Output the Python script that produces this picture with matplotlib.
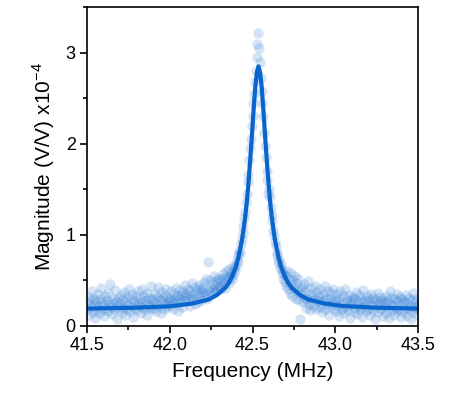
import numpy as np
import matplotlib.pyplot as plt
from matplotlib.ticker import MultipleLocator, FormatStrFormatter

plt.rcParams['font.family'] = ['Liberation Sans', 'DejaVu Sans']
plt.rcParams['mathtext.fontset'] = 'custom'
plt.rcParams['mathtext.rm'] = 'Liberation Sans'

# sweep: 41.5 -> 43.5 MHz, 401 points (0.005 MHz step)
sweep_start, sweep_stop, sweep_n = 41.5, 43.5, 401

mag = [
    0.25, 0.18, 0.32, 0.12, 0.28, 0.21, 0.38, 0.15, 0.24, 0.30, 0.09, 0.27, 0.19, 0.35, 0.22, 0.14, 0.29, 0.42, 0.17, 0.23,
    0.26, 0.11, 0.33, 0.20, 0.28, 0.36, 0.16, 0.24, 0.46, 0.21, 0.13, 0.30, 0.25, 0.18, 0.39, 0.27, 0.08, 0.22, 0.31, 0.19,
    0.24, 0.34, 0.15, 0.28, 0.21, 0.37, 0.12, 0.26, 0.32, 0.18, 0.23, 0.40, 0.16, 0.29, 0.22, 0.35, 0.10, 0.27, 0.20, 0.33,
    0.25, 0.17, 0.38, 0.23, 0.30, 0.14, 0.41, 0.26, 0.21, 0.33, 0.19, 0.28, 0.36, 0.12, 0.24, 0.31, 0.22, 0.44, 0.18, 0.27,
    0.29, 0.20, 0.35, 0.25, 0.16, 0.32, 0.43, 0.22, 0.28, 0.14, 0.37, 0.26, 0.31, 0.19, 0.34, 0.24, 0.40, 0.21, 0.30, 0.27,
    0.31, 0.23, 0.38, 0.27, 0.19, 0.35, 0.29, 0.42, 0.25, 0.33, 0.16, 0.30, 0.39, 0.26, 0.34, 0.21, 0.37, 0.28, 0.45, 0.32,
    0.35, 0.27, 0.41, 0.30, 0.22, 0.38, 0.33, 0.47, 0.29, 0.36, 0.24, 0.43, 0.31, 0.39, 0.26, 0.45, 0.34, 0.40, 0.28, 0.37,
    0.42, 0.33, 0.48, 0.36, 0.52, 0.30, 0.70, 0.41, 0.38, 0.50, 0.35, 0.46, 0.40, 0.55, 0.37, 0.44, 0.49, 0.39, 0.53, 0.43,
    0.44, 0.52, 0.40, 0.49, 0.57, 0.46, 0.53, 0.42, 0.60, 0.50, 0.55, 0.47, 0.62, 0.54, 0.58, 0.51, 0.66, 0.56, 0.63, 0.60,
    0.66, 0.72, 0.70, 0.78, 0.82, 0.80, 0.90, 0.95, 1.02, 1.10, 1.18, 1.25, 1.36, 1.45, 1.58, 1.66, 1.82, 1.95, 2.05, 2.20,
    2.30, 2.45, 2.55, 2.68, 2.80, 2.95, 3.10, 3.22, 3.05, 2.90, 2.72, 2.58, 2.45, 2.30, 2.12, 1.98, 1.85, 1.70, 1.60, 1.45,
    1.50, 1.42, 1.30, 1.22, 1.15, 1.05, 1.00, 0.92, 0.88, 0.80, 0.78, 0.70, 0.72, 0.64, 0.68, 0.58, 0.62, 0.52, 0.57, 0.48,
    0.55, 0.44, 0.60, 0.40, 0.51, 0.36, 0.58, 0.45, 0.33, 0.50, 0.42, 0.55, 0.30, 0.47, 0.38, 0.52, 0.28, 0.07, 0.35, 0.43,
    0.40, 0.26, 0.46, 0.31, 0.20, 0.38, 0.29, 0.49, 0.24, 0.35, 0.17, 0.42, 0.28, 0.33, 0.22, 0.44, 0.30, 0.19, 0.37, 0.27,
    0.33, 0.21, 0.40, 0.26, 0.15, 0.35, 0.28, 0.44, 0.19, 0.31, 0.24, 0.38, 0.12, 0.29, 0.22, 0.36, 0.25, 0.41, 0.18, 0.30,
    0.27, 0.16, 0.35, 0.22, 0.30, 0.11, 0.38, 0.24, 0.19, 0.33, 0.26, 0.14, 0.40, 0.21, 0.29, 0.17, 0.34, 0.23, 0.09, 0.28,
    0.25, 0.32, 0.15, 0.29, 0.20, 0.37, 0.13, 0.27, 0.22, 0.34, 0.18, 0.30, 0.10, 0.26, 0.39, 0.21, 0.28, 0.16, 0.33, 0.24,
    0.19, 0.29, 0.12, 0.35, 0.23, 0.17, 0.31, 0.26, 0.08, 0.28, 0.21, 0.36, 0.15, 0.25, 0.32, 0.18, 0.27, 0.11, 0.30, 0.22,
    0.26, 0.14, 0.33, 0.20, 0.28, 0.09, 0.38, 0.23, 0.17, 0.31, 0.24, 0.12, 0.29, 0.21, 0.35, 0.16, 0.27, 0.19, 0.32, 0.10,
    0.24, 0.30, 0.15, 0.27, 0.20, 0.34, 0.11, 0.25, 0.18, 0.31, 0.22, 0.08, 0.28, 0.16, 0.36, 0.21, 0.26, 0.13, 0.29, 0.19,
    0.23,
]
freq = np.linspace(sweep_start, sweep_stop, sweep_n)

# lorentzian fit curve
fit_freq = [41.50, 41.80, 42.00, 42.136, 42.236, 42.286, 42.336, 42.356, 42.376, 42.396,
            42.416, 42.436, 42.446, 42.456, 42.466, 42.476, 42.486, 42.496, 42.506, 42.516,
            42.526, 42.536, 42.546, 42.556, 42.566, 42.576, 42.586, 42.596, 42.606, 42.616,
            42.626, 42.636, 42.656, 42.676, 42.696, 42.716, 42.736, 42.786, 42.836, 42.936,
            43.036, 43.236, 43.50]
fit_mag = [0.19, 0.20, 0.215, 0.245, 0.29, 0.34, 0.42, 0.47, 0.54, 0.63,
           0.76, 0.94, 1.06, 1.20, 1.37, 1.58, 1.82, 2.08, 2.36, 2.61,
           2.78, 2.85, 2.78, 2.61, 2.36, 2.08, 1.82, 1.58, 1.37, 1.20,
           1.06, 0.94, 0.76, 0.63, 0.54, 0.47, 0.42, 0.34, 0.29, 0.245,
           0.22, 0.20, 0.19]

fig = plt.figure(figsize=(4.55, 3.95), dpi=100)
ax = fig.add_axes([0.191, 0.175, 0.728, 0.807])

ax.scatter(freq, mag, s=55, color='#2a7ad6', alpha=0.2, linewidths=0)
ax.plot(fit_freq, fit_mag, color='#0a66cc', lw=3.0, solid_capstyle='round')

ax.set_xlim(41.5, 43.5)
ax.set_ylim(0, 3.5)
ax.xaxis.set_major_locator(MultipleLocator(0.5))
ax.xaxis.set_minor_locator(MultipleLocator(0.25))
ax.xaxis.set_major_formatter(FormatStrFormatter('%.1f'))
ax.yaxis.set_major_locator(MultipleLocator(1))
ax.yaxis.set_minor_locator(MultipleLocator(0.5))

ax.tick_params(which='major', direction='out', length=5, width=1.2, labelsize=13, pad=3)
ax.tick_params(which='minor', direction='out', length=3, width=1.2)
for sp in ax.spines.values():
    sp.set_linewidth(1.2)

ax.set_xlabel('Frequency (MHz)', fontsize=15, labelpad=6)
ax.set_ylabel(r'Magnitude (V/V) x10$^{-4}$', fontsize=15, labelpad=6)

fig.savefig('out.png', dpi=100)
